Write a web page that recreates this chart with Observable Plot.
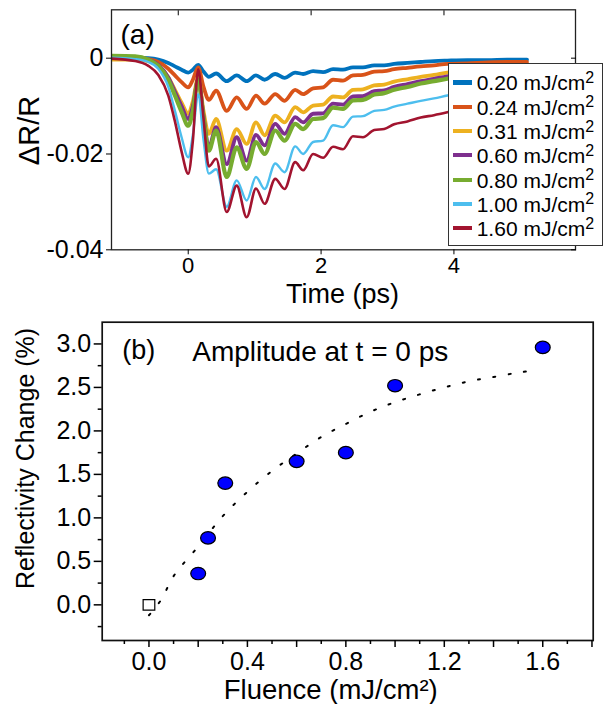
<!DOCTYPE html>
<html><head><meta charset="utf-8">
<script src="https://cdn.jsdelivr.net/npm/d3@7"></script>
<script src="https://cdn.jsdelivr.net/npm/@observablehq/plot@0.6"></script>
<style>
body{margin:0;background:#fff;font-family:"Liberation Sans",Arial,sans-serif;}
#wrap{position:relative;width:603px;height:704px;overflow:hidden;background:#fff}
#wrap svg{display:block}
#legend{position:absolute;left:448px;top:63px;width:153px;height:181px;border:1px solid #333;background:#fff}
.row{position:absolute;left:0;height:24px;font-size:21px;line-height:24px;white-space:nowrap;color:#000}
.sw{position:absolute;left:4px;top:9px;width:19px;height:4.2px}
.lab{position:absolute;left:27.7px;top:0}
.sup{font-size:16px;position:relative;top:-7.5px}
</style></head>
<body><div id="wrap"></div>
<script>
// ---------- Panel (a) data ----------
const time = [-1.15, -0.8, -0.6, -0.45, -0.3, -0.2, -0.1, 0, 0.07, 0.15, 0.23, 0.31, 0.42, 0.58, 0.73, 0.88, 1.02, 1.15, 1.31, 1.45, 1.61, 1.73, 1.88, 2.03, 2.18, 2.33, 2.48, 2.63, 2.8, 2.95, 3.1, 3.3, 3.5, 3.7, 3.9, 4.2, 4.5, 4.8, 5.1];
const fluenceLabels = ["0.20", "0.24", "0.31", "0.60", "0.80", "1.00", "1.60"];
const colors = ["#0072BD", "#D95319", "#EDB120", "#7E2F8E", "#77AC30", "#4DBEEE", "#A2142F"];
const s020 = [0.0001, 0.0001, 0.0, -0.0003, -0.0010, -0.0017, -0.0024, -0.0030, -0.0024, -0.0014, -0.0028, -0.0039, -0.0032, -0.0048, -0.0036, -0.0048, -0.0036, -0.0045, -0.0033, -0.0041, -0.0030, -0.0033, -0.0027, -0.0029, -0.0023, -0.0024, -0.0019, -0.0019, -0.0015, -0.0015, -0.0012, -0.0010, -0.0008, -0.0006, -0.0005, -0.0004, -0.0004, -0.0003, -0.0003];
const s024 = [0.0002, 0.0001, -0.0002, -0.0008, -0.0022, -0.0036, -0.0050, -0.0061, -0.0045, -0.0019, -0.0060, -0.0087, -0.0068, -0.0110, -0.0082, -0.0106, -0.0078, -0.0095, -0.0075, -0.0089, -0.0066, -0.0075, -0.0063, -0.0061, -0.0045, -0.0047, -0.0036, -0.0035, -0.0028, -0.0027, -0.0023, -0.0020, -0.0017, -0.0015, -0.0012, -0.0011, -0.0009, -0.0008, -0.0008];
const s031 = [-0.0003, -0.0003, -0.0006, -0.0016, -0.0040, -0.0066, -0.0093, -0.0116, -0.0090, -0.0040, -0.0110, -0.0158, -0.0127, -0.0193, -0.0148, -0.0179, -0.0134, -0.0161, -0.0120, -0.0134, -0.0102, -0.0113, -0.0099, -0.0097, -0.0080, -0.0082, -0.0066, -0.0065, -0.0057, -0.0055, -0.0049, -0.0044, -0.0039, -0.0035, -0.0030, -0.0026, -0.0022, -0.0019, -0.0017];
const s060 = [0.0003, 0.0002, -0.0003, -0.0014, -0.0040, -0.0070, -0.0100, -0.0127, -0.0100, -0.0045, -0.0120, -0.0186, -0.0144, -0.0221, -0.0165, -0.0214, -0.0160, -0.0182, -0.0137, -0.0158, -0.0123, -0.0134, -0.0116, -0.0115, -0.0095, -0.0097, -0.0080, -0.0079, -0.0069, -0.0067, -0.0060, -0.0054, -0.0048, -0.0043, -0.0038, -0.0033, -0.0028, -0.0025, -0.0022];
const s080 = [0.0005, 0.0004, -0.0003, -0.0016, -0.0045, -0.0078, -0.0112, -0.0141, -0.0110, -0.0045, -0.0125, -0.0193, -0.0151, -0.0248, -0.0186, -0.0231, -0.0175, -0.0200, -0.0151, -0.0172, -0.0137, -0.0148, -0.0127, -0.0125, -0.0103, -0.0106, -0.0088, -0.0087, -0.0076, -0.0073, -0.0066, -0.0060, -0.0053, -0.0048, -0.0043, -0.0037, -0.0032, -0.0028, -0.0025];
const s100 = [0.0001, -0.0002, -0.0008, -0.0022, -0.0060, -0.0110, -0.0165, -0.0207, -0.0160, -0.0075, -0.0170, -0.0241, -0.0232, -0.0310, -0.0255, -0.0297, -0.0248, -0.0273, -0.0220, -0.0238, -0.0184, -0.0200, -0.0175, -0.0172, -0.0140, -0.0144, -0.0122, -0.0121, -0.0110, -0.0108, -0.0101, -0.0095, -0.0089, -0.0084, -0.0078, -0.0070, -0.0064, -0.0058, -0.0054];
const s160 = [-0.0001, -0.0006, -0.0016, -0.0035, -0.0078, -0.0132, -0.0195, -0.0241, -0.0172, -0.0023, -0.0125, -0.0226, -0.0210, -0.0321, -0.0266, -0.0332, -0.0272, -0.0304, -0.0252, -0.0273, -0.0217, -0.0234, -0.0200, -0.0208, -0.0185, -0.0190, -0.0163, -0.0165, -0.0150, -0.0148, -0.0138, -0.0132, -0.0124, -0.0119, -0.0113, -0.0103, -0.0095, -0.0088, -0.0082];
const xTicksA = [0, 2, 4];
const xTopTicksA = [-0.15, 1.85, 3.85];
const yTicksA = [0, -0.02, -0.04];

// ---------- Panel (b) data ----------
const fluence = [0.20, 0.24, 0.31, 0.60, 0.80, 1.00, 1.60];
const amplitude = [0.36, 0.77, 1.40, 1.65, 1.75, 2.52, 2.96];
const refFluence = [0];
const refAmplitude = [0];
const fitFluence = [0, 0.05, 0.1, 0.2, 0.3, 0.4, 0.5, 0.6, 0.7, 0.8, 0.9, 1.0, 1.1, 1.2, 1.3, 1.4, 1.5, 1.58];
const fitAmplitude = [-0.12, 0.06, 0.33, 0.67, 1.02, 1.30, 1.54, 1.74, 1.93, 2.08, 2.22, 2.33, 2.42, 2.50, 2.57, 2.62, 2.67, 2.70];
const xLabelTicksB = [0, 0.4, 0.8, 1.2, 1.6];
const xMidTicksB = [0.2, 0.6, 1.0, 1.4, 1.8];
const xMinorTicksB = [-0.1, 0.1, 0.3, 0.5, 0.7, 0.9, 1.1, 1.3, 1.5, 1.7];
const yLabelTicksB = [0, 0.5, 1.0, 1.5, 2.0, 2.5, 3.0];
const yMinorTicksB = [-0.25, 0.25, 0.75, 1.25, 1.75, 2.25, 2.75];

const FONT = "Liberation Sans, Arial, Helvetica, sans-serif";
const wrap = document.getElementById("wrap");

const series = [s020, s024, s031, s060, s080, s100, s160];
const widths = [3.8, 3.8, 3.8, 3.8, 4.2, 2.4, 2.6];
const rowsA = series.flatMap((vals, i) => vals.map((v, j) => ({t: time[j], v, i})));

const plotA = Plot.plot({
  width: 603, height: 307,
  marginLeft: 111, marginRight: 28, marginTop: 9.3, marginBottom: 57.7,
  x: {domain: [-1.155, 5.83]},
  y: {domain: [-0.04, 0.0101]},
  style: {fontFamily: FONT, background: "white", color: "black", overflow: "visible"},
  marks: [
    ...series.map((vals, i) => Plot.line(rowsA.filter(d => d.i === i), {
      x: "t", y: "v", stroke: colors[i], strokeWidth: widths[i], curve: "monotone-x", clip: true
    })),
    Plot.frame({stroke: "#222", strokeWidth: 1.3}),
    Plot.axisX({ticks: xTicksA, tickSize: 5, tickPadding: 3, tickFormat: d => String(d), fontSize: 22, label: null}),
    Plot.axisX({anchor: "top", ticks: xTopTicksA, tickSize: -5, tickFormat: () => "", label: null}),
    Plot.axisY({ticks: yTicksA, tickSize: 5, tickPadding: 3, tickFormat: d => d === 0 ? "0" : d.toFixed(2), fontSize: 25, label: null}),
    Plot.axisY({anchor: "right", ticks: yTicksA, tickSize: -5, tickFormat: () => "", label: null}),
    Plot.text(["(a)"], {frameAnchor: "top-left", dx: 9, dy: 34, textAnchor: "start", lineAnchor: "bottom", fontSize: 28}),
    Plot.text(["Time (ps)"], {frameAnchor: "bottom", dx: -1, dy: 52.7, textAnchor: "middle", lineAnchor: "bottom", fontSize: 27}),
    Plot.text(["\u0394R/R"], {frameAnchor: "left", dx: -73, dy: 0.7, rotate: -90, textAnchor: "middle", lineAnchor: "bottom", fontSize: 29})
  ]
});
wrap.appendChild(plotA);

// legend (overlaid at the right of panel a)
const legend = document.createElement("div");
legend.id = "legend";
fluenceLabels.forEach((lab, i) => {
  const row = document.createElement("div");
  row.className = "row";
  row.style.top = (7.4 + 24.3 * i) + "px";
  row.style.width = "153px";
  row.innerHTML = `<div class="sw" style="background:${colors[i]}"></div><span class="lab">${lab} mJ/cm<span class="sup">2</span></span>`;
  legend.appendChild(row);
});
wrap.appendChild(legend);

// custom symbols
const ellipse = {draw(ctx, size) {
  const r = Math.sqrt(size / Math.PI), rx = r * 1.2, ry = r, k = 0.5523;
  ctx.moveTo(rx, 0);
  ctx.bezierCurveTo(rx, k * ry, k * rx, ry, 0, ry);
  ctx.bezierCurveTo(-k * rx, ry, -rx, k * ry, -rx, 0);
  ctx.bezierCurveTo(-rx, -k * ry, -k * rx, -ry, 0, -ry);
  ctx.bezierCurveTo(k * rx, -ry, rx, -k * ry, rx, 0);
  ctx.closePath();
}};
const rectSym = {draw(ctx, size) {
  const r = Math.sqrt(size / Math.PI), hx = r * 1.1, hy = r;
  ctx.moveTo(-hx, -hy); ctx.lineTo(hx, -hy); ctx.lineTo(hx, hy); ctx.lineTo(-hx, hy); ctx.closePath();
}};

const ptsB = fluence.map((f, i) => ({f, a: amplitude[i]}));
const refB = refFluence.map((f, i) => ({f, a: refAmplitude[i]}));
const fitB = fitFluence.map((f, i) => ({f, a: fitAmplitude[i]}));

const plotB = Plot.plot({
  width: 603, height: 397,
  marginLeft: 101.7, marginRight: 10.3, marginTop: 14.7, marginBottom: 64,
  x: {domain: [-0.19, 1.805]},
  y: {domain: [-0.41, 3.25]},
  style: {fontFamily: FONT, background: "white", color: "black", overflow: "visible"},
  marks: [
    Plot.line(fitB, {x: "f", y: "a", stroke: "black", strokeWidth: 2, strokeDasharray: "2 13.5", curve: "catmull-rom"}),
    Plot.dot(refB, {x: "f", y: "a", r: 5.3, symbol: rectSym, fill: "white", stroke: "black", strokeWidth: 1.2}),
    Plot.dot(ptsB, {x: "f", y: "a", r: 6.2, symbol: ellipse, fill: "#0000FF", stroke: "black", strokeWidth: 1.2}),
    Plot.frame({stroke: "#111", strokeWidth: 1.7}),
    Plot.axisX({ticks: xLabelTicksB, tickSize: 7, tickPadding: 4.5, tickFormat: d => d.toFixed(1), fontSize: 25, label: null, strokeWidth: 1.5}),
    Plot.axisX({ticks: xMidTicksB, tickSize: 7, tickFormat: () => "", label: null, strokeWidth: 1.5}),
    Plot.axisX({ticks: xMinorTicksB, tickSize: 4, tickFormat: () => "", label: null, strokeWidth: 1.5}),
    Plot.axisY({ticks: yLabelTicksB, tickSize: 8, tickPadding: 3, tickFormat: d => d.toFixed(1), fontSize: 25, label: null, strokeWidth: 1.5}),
    Plot.axisY({ticks: yMinorTicksB, tickSize: 4, tickFormat: () => "", label: null, strokeWidth: 1.5}),
    Plot.text(["(b)"], {frameAnchor: "top-left", dx: 20, dy: 36.3, textAnchor: "start", lineAnchor: "bottom", fontSize: 27}),
    Plot.text(["Amplitude at t = 0 ps"], {frameAnchor: "top-left", dx: 90, dy: 38.3, textAnchor: "start", lineAnchor: "bottom", fontSize: 28}),
    Plot.text(["Fluence (mJ/cm\u00B2)"], {frameAnchor: "bottom-left", dx: 121.6, dy: 58, textAnchor: "start", lineAnchor: "bottom", fontSize: 27.5}),
    Plot.text(["Reflectivity Change (%)"], {frameAnchor: "left", dx: -68.4, dy: -22.9, rotate: -90, textAnchor: "middle", lineAnchor: "bottom", fontSize: 25})
  ]
});
wrap.appendChild(plotB);
</script>
</body></html>
